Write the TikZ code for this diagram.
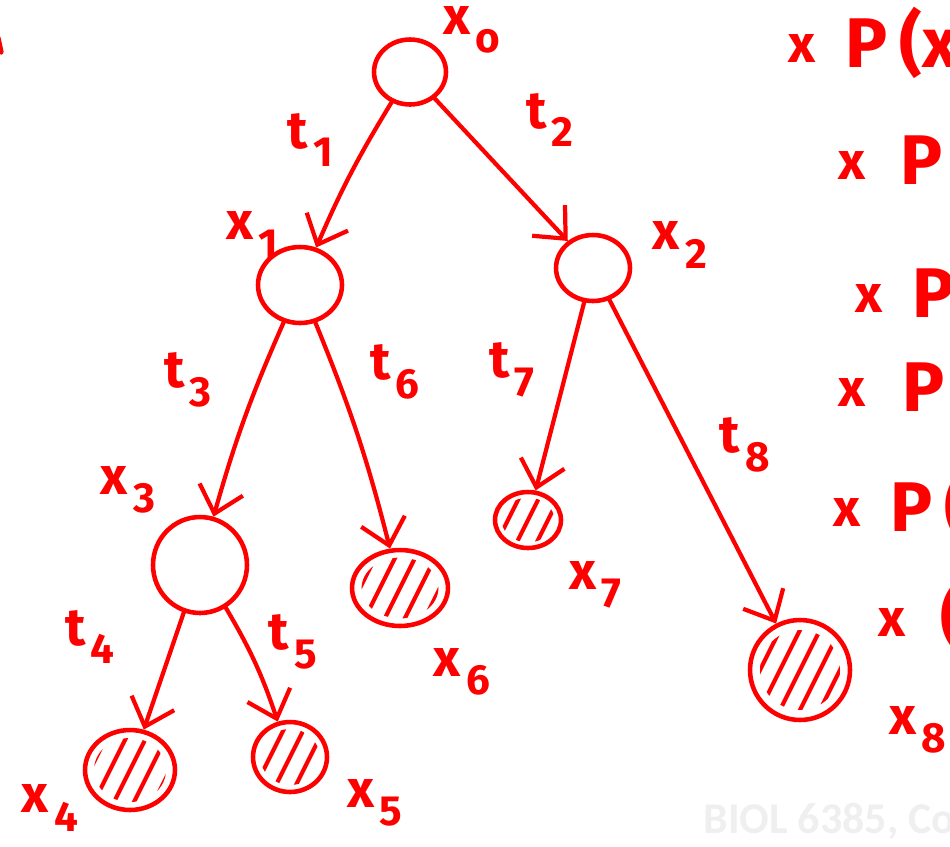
\documentclass[tikz,border=0pt]{standalone}
\usepackage{fontspec}
\setmainfont{Fira Sans}
\newfontfamily\markfont{Carlito}
\usetikzlibrary{positioning, arrows.meta, shapes.geometric}
\definecolor{inkred}{HTML}{FF0000}
\definecolor{markgray}{HTML}{EFEFEF}

\newcommand{\hlab}[2]{#1\hspace{3pt}\raisebox{-0.35em}{\fontsize{24}{24}\selectfont #2}}

\begin{document}
\begin{tikzpicture}[x=0.02cm, y=-0.02cm,
    state/.style={ellipse, draw=inkred, line width=2.6pt, inner sep=0pt},
    lab/.style={text=inkred, font=\fontsize{30}{32}\selectfont\bfseries, inner sep=0pt},
    big/.style={text=inkred, font=\fontsize{40}{42}\selectfont\bfseries, inner sep=0pt, anchor=west},
    arr/.style={-{Straight Barb[length=5mm, width=9mm, line width=2.4pt]},
                draw=inkred, line width=2.4pt, line cap=round},
    hatch/.style={draw=inkred, line width=2.4pt, line cap=round}
]
    \useasboundingbox (0,0) rectangle (950,846);
    \clip (0,0) rectangle (950,846);

    % inner states
    \node[state, minimum width=1.44cm, minimum height=1.30cm] (x0) at (410,72) {};
    \node[state, minimum width=1.68cm, minimum height=1.52cm] (x1) at (300,285) {};
    \node[state, minimum width=1.48cm, minimum height=1.32cm] (x2) at (593,268) {};
    \node[state, minimum width=1.88cm, minimum height=1.92cm] (x3) at (200,565) {};

    % leaves, hatched
    \foreach \n/\cx/\cy/\rx/\ry in {x4/130/770/45/40, x5/290/757/37/35,
        x6/400/588/48/38, x7/528/520/33/28, x8/800/670/50/50}{
        \node[state, minimum width={\rx*0.04cm}, minimum height={\ry*0.04cm}] (\n) at (\cx,\cy) {};
        \begin{scope}
            \clip (\cx,\cy) ellipse [x radius={\rx*0.016cm}, y radius={\ry*0.016cm}];
            \foreach \k in {-2,...,2}
                \draw[hatch] (\cx+\k*20-25,\cy+50) -- (\cx+\k*20+25,\cy-50);
        \end{scope}
    }

    % transitions
    \draw[arr] (x0) to[bend right=4] (x1);
    \draw[arr] (x0) -- (x2);
    \draw[arr] (x1) to[bend right=4] (x3);
    \draw[arr] (x1) to[bend left=4] (x6);
    \draw[arr] (x2) -- (x7);
    \draw[arr] (x2) -- (x8);
    \draw[arr] (x3) -- (x4);
    \draw[arr] (x3) to[bend left=6] (x5);

    % edge labels
    \node[lab] (t1) at (310,140) {\hlab{t}{1}};
    \node[lab] (t2) at (550,120) {\hlab{t}{2}};
    \node[lab] (t3) at (188,380) {\hlab{t}{3}};
    \node[lab] (t6) at (395,372) {\hlab{t}{6}};
    \node[lab] (t7) at (512,370) {\hlab{t}{7}};
    \node[lab] (t8) at (745,445) {\hlab{t}{8}};
    \node[lab] (t4) at (90,637) {\hlab{t}{4}};
    \node[lab] (t5) at (293,642) {\hlab{t}{5}};

    % state labels
    \node[lab] (l0) at (472,30) {\hlab{x}{o}};
    \node[lab] (l1) at (252,235) {\hlab{x}{1}};
    \node[lab] (l2) at (680,245) {\hlab{x}{2}};
    \node[lab] (l3) at (128,490) {\hlab{x}{3}};
    \node[lab] (l6) at (462,672) {\hlab{x}{6}};
    \node[lab] (l7) at (595,585) {\hlab{x}{7}};
    \node[lab] (l8) at (918,730) {\hlab{x}{8}};
    \node[lab] (l4) at (50,808) {\hlab{x}{4}};
    \node[lab] (l5) at (375,803) {\hlab{x}{5}};

    % right column, cut off at the edge
    \foreach \i/\xa/\xb/\y/\txt in {1/788/845/48/P\,(x, 2/838/900/165/P,
        3/855/912/298/P, 4/838/902/392/P, 5/833/890/512/P\,(, 6/878/940/622/(}{
        \node[lab, anchor=west] (rx\i) at (\xa,\y) {x};
        \node[big] (rp\i) at (\xb,\y-5) {\txt};
    }

    % fragment at left edge
    \draw[hatch, line width=3pt] (-2,38) -- (1,52);

    % watermark
    \node[text=markgray, font=\markfont\bfseries\fontsize{25}{26}\selectfont,
          anchor=base west, inner sep=0pt] (mark) at (703,833) {BIOL 6385, Co};
\end{tikzpicture}
\end{document}
